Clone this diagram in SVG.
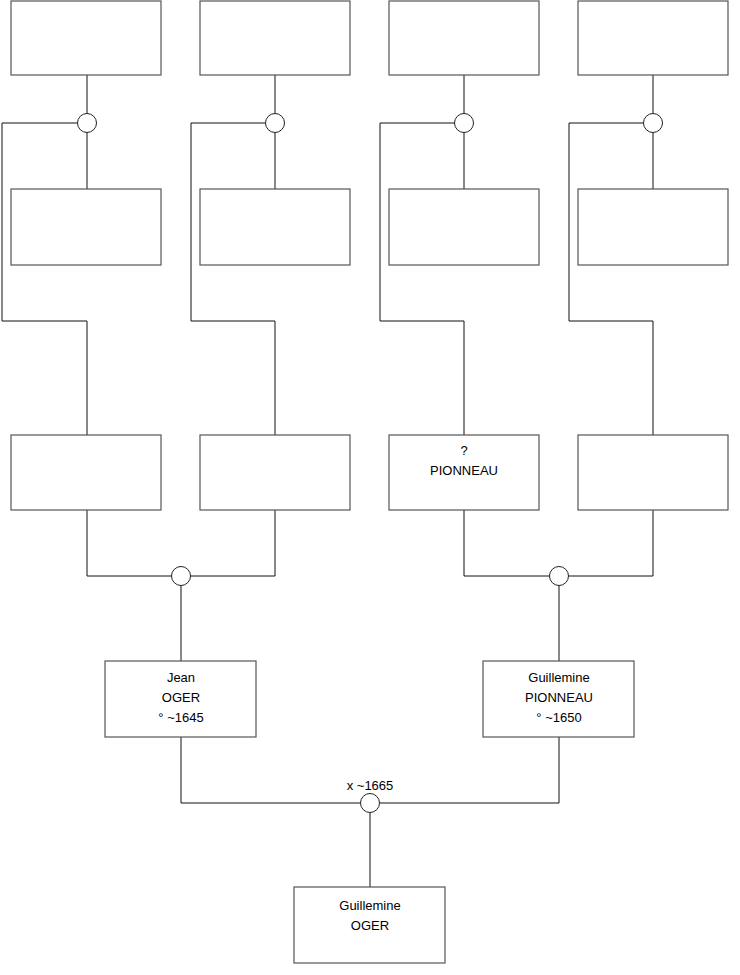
<svg xmlns="http://www.w3.org/2000/svg" width="740" height="975" viewBox="0 0 740 975">
<style>
.box{fill:#fff;stroke:#555;stroke-width:1.2}
.c{fill:#fff;stroke:#222;stroke-width:1}
.l{fill:none;stroke:#111;stroke-width:1}
text{font-family:"Liberation Sans",Arial,sans-serif;font-size:13px;fill:#000;text-anchor:middle}
</style>
<rect width="740" height="975" fill="#fff"/>
<g id="connectors">
<path class="l" d="M87 75V189M87 123H2V321H87V435"/>
<path class="l" d="M275 75V189M275 123H191V321H275V435"/>
<path class="l" d="M464 75V189M464 123H380V321H464V435"/>
<path class="l" d="M653 75V189M653 123H569V321H653V435"/>
<path class="l" d="M87 510V576H275V510M181 576V661"/>
<path class="l" d="M464 510V576H653V510M559 576V661"/>
<path class="l" d="M181 737V803H559V737M370 803V887"/>
</g>
<g id="u1"><circle class="c" cx="87" cy="123" r="9.5"/></g>
<g id="u2"><circle class="c" cx="275" cy="123" r="9.5"/></g>
<g id="u3"><circle class="c" cx="464" cy="123" r="9.5"/></g>
<g id="u4"><circle class="c" cx="653" cy="123" r="9.5"/></g>
<g id="u5"><circle class="c" cx="181" cy="576" r="9.5"/></g>
<g id="u6"><circle class="c" cx="559" cy="576" r="9.5"/></g>
<g id="u7"><circle class="c" cx="370" cy="803" r="9.5"/><text x="370" y="790">x ~1665</text></g>
<g id="n1"><rect class="box" x="11" y="1" width="150" height="74"/></g>
<g id="n2"><rect class="box" x="200" y="1" width="150" height="74"/></g>
<g id="n3"><rect class="box" x="389" y="1" width="150" height="74"/></g>
<g id="n4"><rect class="box" x="578" y="1" width="150" height="74"/></g>
<g id="n5"><rect class="box" x="11" y="189" width="150" height="76"/></g>
<g id="n6"><rect class="box" x="200" y="189" width="150" height="76"/></g>
<g id="n7"><rect class="box" x="389" y="189" width="150" height="76"/></g>
<g id="n8"><rect class="box" x="578" y="189" width="150" height="76"/></g>
<g id="n9"><rect class="box" x="11" y="435" width="150" height="75"/></g>
<g id="n10"><rect class="box" x="200" y="435" width="150" height="75"/></g>
<g id="n11"><rect class="box" x="389" y="435" width="150" height="75"/><text x="464" y="455">?</text><text x="464" y="475">PIONNEAU</text></g>
<g id="n12"><rect class="box" x="578" y="435" width="150" height="75"/></g>
<g id="n13"><rect class="box" x="105" y="661" width="151" height="76"/><text x="181" y="682">Jean</text><text x="181" y="702">OGER</text><text x="181" y="722">° ~1645</text></g>
<g id="n14"><rect class="box" x="483" y="661" width="151" height="76"/><text x="559" y="682">Guillemine</text><text x="559" y="702">PIONNEAU</text><text x="559" y="722">° ~1650</text></g>
<g id="n15"><rect class="box" x="294" y="887" width="151" height="76"/><text x="370" y="910">Guillemine</text><text x="370" y="930">OGER</text></g>
</svg>
